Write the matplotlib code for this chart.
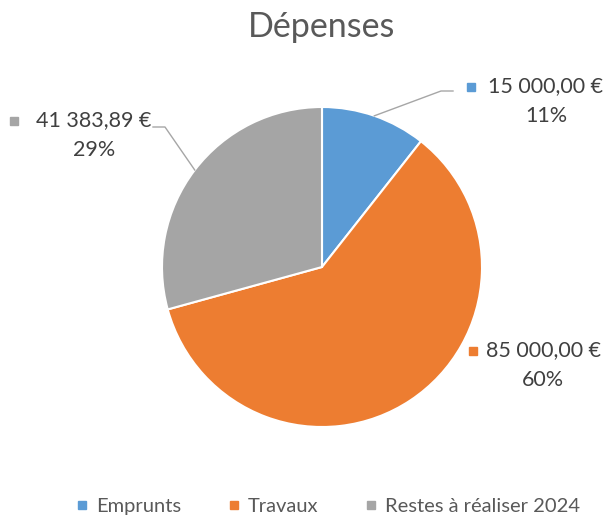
import matplotlib
matplotlib.use("Agg")
import matplotlib.pyplot as plt
from matplotlib.lines import Line2D
import numpy as np

plt.rcParams['font.family'] = ['Lato', 'DejaVu Sans']

categories = ['Emprunts', 'Travaux', 'Restes à réaliser 2024']
values = [15000.00, 85000.00, 41383.89]
value_labels = ['15 000,00 €', '85 000,00 €', '41 383,89 €']
colors = ['#5B9BD5', '#ED7D31', '#A5A5A5']

W, H = 608, 519
fig = plt.figure(figsize=(W / 100, H / 100), dpi=100)

# pie centre (322, 267) px, radius 160 px
cx, cy, r = 322, 267, 160
ax = fig.add_axes([(cx - r) / W, (H - cy - r) / H, 2 * r / W, 2 * r / H])
wedges, _ = ax.pie(values, colors=colors, startangle=90, counterclock=False,
                   radius=1, wedgeprops=dict(edgecolor='white', linewidth=1.5))
ax.set_xlim(-1, 1)
ax.set_ylim(-1, 1)
ax.axis('off')

fig.text(cx / W, 1 - 27 / H, 'Dépenses', ha='center', va='center',
         fontsize=24.5, color='#595959')

total = sum(values)
pcts = [f'{round(v / total * 100):d}%' for v in values]


def px(x, y):
    # figure pixel -> data coords of ax
    return (x - cx) / r, (cy - y) / r


# label layout: (text centre x, first line y, marker x, leader line corner pts)
layout = [
    (546, 86, 471, [(441, 91), (453, 91)]),
    (543, 350, 473, None),
    (94, 120, 14, [(165, 127), (153, 127)]),
]

for w, vl, pc, c, (tx, ty, mx, leader) in zip(wedges, value_labels, pcts, colors, layout):
    x0, y0 = px(tx, ty)
    ax.text(x0, y0, vl, ha='center', va='center', fontsize=15.5,
            color='#404040', clip_on=False)
    x1, y1 = px(tx, ty + 30)
    ax.text(x1, y1, pc, ha='center', va='center', fontsize=15.5,
            color='#404040', clip_on=False)
    mxx, myy = px(mx, ty + 1)
    ax.plot([mxx], [myy], marker='s', markersize=6, color=c,
            linestyle='none', clip_on=False)
    if leader:
        mid = np.deg2rad((w.theta1 + w.theta2) / 2)
        xs = [np.cos(mid)] + [px(*p)[0] for p in leader]
        ys = [np.sin(mid)] + [px(*p)[1] for p in leader]
        ax.plot(xs, ys, color='#A6A6A6', linewidth=1, clip_on=False)

handles = [Line2D([0], [0], marker='s', color=c, linestyle='none', markersize=6)
           for c in colors]
fig.legend(handles, categories, loc='center', bbox_to_anchor=(328 / W, 1 - 506 / H),
           ncol=3, frameon=False, fontsize=14.5, labelcolor='#595959',
           handlelength=0.6, handletextpad=0.4, columnspacing=2.3)

fig.savefig('out.png', dpi=100)
